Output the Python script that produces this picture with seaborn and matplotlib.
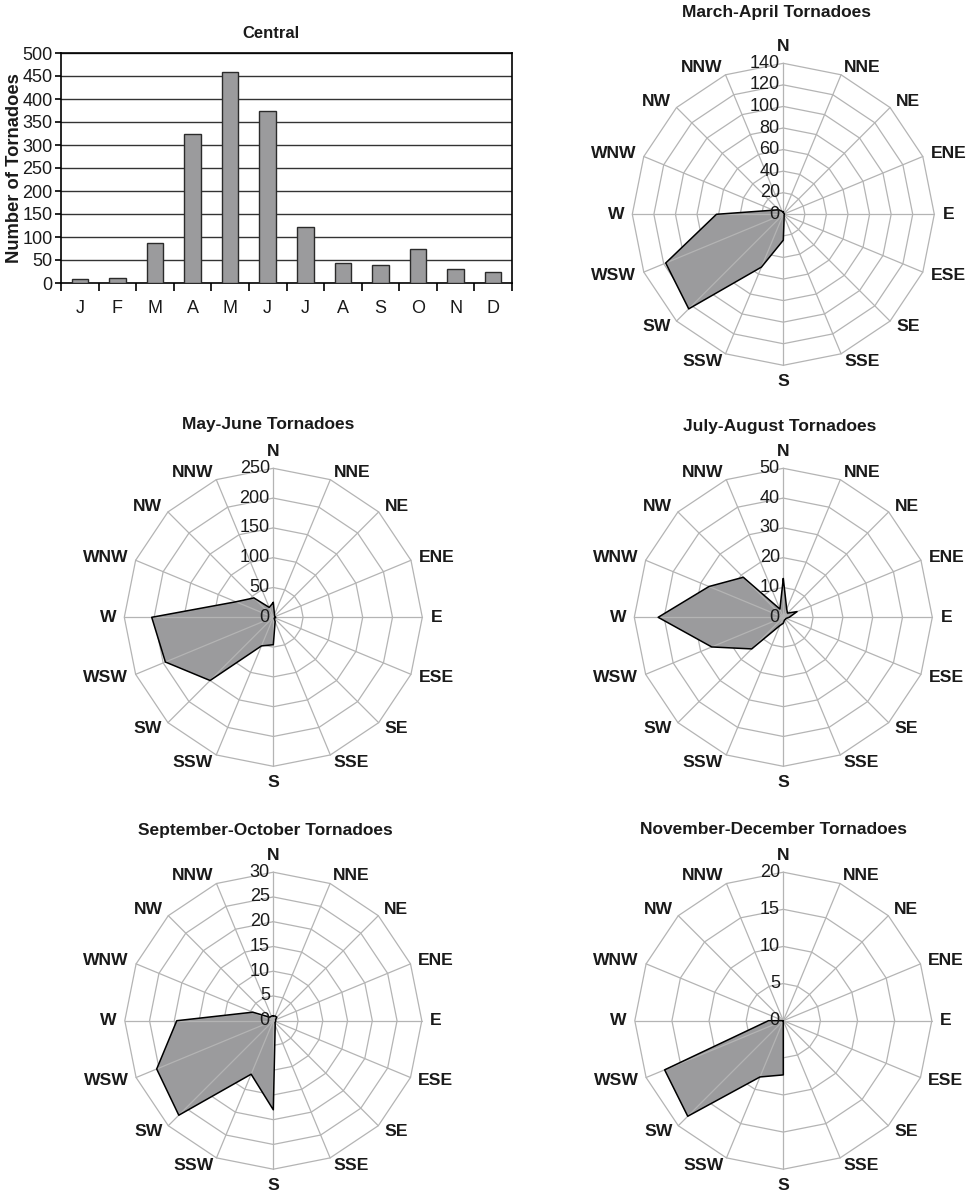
import numpy as np
import pandas as pd
import matplotlib
matplotlib.use("Agg")
import matplotlib.pyplot as plt
import matplotlib.transforms as mtransforms
import seaborn as sns

# ---------------- data ----------------
month_keys = ["Jan", "Feb", "Mar", "Apr", "May", "Jun", "Jul", "Aug", "Sep", "Oct", "Nov", "Dec"]
month_labels = ["J", "F", "M", "A", "M", "J", "J", "A", "S", "O", "N", "D"]
month_counts = [8, 11, 88, 325, 458, 373, 121, 44, 39, 75, 31, 23]
bar_yticks = [0, 50, 100, 150, 200, 250, 300, 350, 400, 450, 500]

directions = ["N", "NNE", "NE", "ENE", "E", "ESE", "SE", "SSE",
              "S", "SSW", "SW", "WSW", "W", "WNW", "NW", "NNW"]
mar_apr = [2, 1, 1, 1, 1, 1, 1, 2, 24, 53, 124, 118, 62, 10, 6, 3]
may_jun = [25, 5, 3, 3, 4, 3, 2, 8, 46, 52, 150, 196, 204, 68, 46, 18]
jul_aug = [13, 3, 2, 5, 2, 1, 1, 1, 2, 3, 15, 26, 42, 27, 19, 3]
sep_oct = [1, 1, 1, 0.5, 0.5, 0.5, 0.5, 1, 18, 11.7, 27, 25.5, 19.5, 4.5, 1, 1]
nov_dec = [0, 0, 0, 0, 0, 0, 0, 0, 7.3, 8.2, 18.2, 17.3, 2, 0, 0, 0]

titles = ["March-April Tornadoes", "May-June Tornadoes", "July-August Tornadoes",
          "September-October Tornadoes", "November-December Tornadoes"]
radial_max = [140, 250, 50, 30, 20]
radial_step = [20, 50, 10, 5, 5]

# ---------------- style ----------------
sns.set_theme(style="white")
plt.rcParams["font.family"] = ["Liberation Sans", "DejaVu Sans"]

W, H = 974, 1201
fig = plt.figure(figsize=(W / 100, H / 100), dpi=100)

FILL = "#9b9b9d"
GRID = "#b4b4b4"
TXT = "#1a1a1a"

# ---------------- bar chart ----------------
L, R_, T, B = 61, 512, 53, 283
axb = fig.add_axes([L / W, 1 - B / H, (R_ - L) / W, (B - T) / H])
df = pd.DataFrame({"month": month_keys, "count": month_counts})
sns.barplot(data=df, x="month", y="count", order=month_keys, color=FILL,
            saturation=1, edgecolor="#2b2b2b", linewidth=1.0, width=0.44, ax=axb, zorder=3)
axb.set_xlim(-0.5, 11.5)
axb.set_ylim(0, 500)
axb.set_yticks(bar_yticks)
axb.set_yticklabels([str(v) for v in bar_yticks], fontsize=13, color=TXT)
axb.set_xticks(range(12))
axb.set_xticklabels(month_labels, fontsize=13, color=TXT)
axb.set_xticks(np.arange(-0.5, 12, 1), minor=True)
axb.tick_params(axis="x", which="major", length=0, pad=12)
axb.tick_params(axis="x", which="minor", length=6, width=1.2, color="black", direction="out", bottom=True)
axb.tick_params(axis="y", which="major", length=4, width=1.2, color="black", direction="out", left=True, pad=2)
for y in bar_yticks[1:]:
    axb.axhline(y, color="#333333", lw=1.0, zorder=1)
for s in axb.spines.values():
    s.set_visible(True)
    s.set_color("black")
    s.set_linewidth(1.2)
axb.set_xlabel("")
axb.set_ylabel("Number of Tornadoes", fontsize=13.2, fontweight="bold", color=TXT)
axb.yaxis.set_label_coords(-0.084, 0.5)
fig.text(271 / W, 1 - 34 / H, "Central", ha="center", va="center",
         fontsize=12, fontweight="bold", color=TXT)

# ---------------- radar charts ----------------
theta = np.deg2rad(np.arange(16) * 22.5)
tc = np.append(theta, theta[0])


def radar(values, rmax, step, title, cx, cy, R, title_xy):
    ax = fig.add_axes([(cx - R) / W, 1 - (cy + R) / H, 2 * R / W, 2 * R / H], projection="polar")
    ax.set_theta_zero_location("N")
    ax.set_theta_direction(-1)
    ax.set_facecolor("none")
    ax.grid(False)
    ax.spines["polar"].set_visible(False)
    ax.set_xticks([])
    ax.set_yticks([])
    ax.set_ylim(0, rmax)
    vc = np.append(values, values[0])
    # rings (below fill)
    for lev in np.arange(step, rmax + step / 2, step):
        ax.plot(tc, [lev] * 17, color=GRID, lw=0.9, zorder=1, clip_on=False)
    ax.fill(tc, vc, color=FILL, zorder=2, lw=0)
    # spokes (above fill)
    for t in theta:
        ax.plot([t, t], [0, rmax], color=GRID, lw=0.9, zorder=3, clip_on=False)
    ax.plot(tc, vc, color="black", lw=1.1, zorder=4)
    # radial labels
    off = mtransforms.offset_copy(ax.transData, fig=fig, x=-2.5, y=0, units="points")
    for lev in np.arange(0, rmax + step / 2, step):
        ax.text(0, lev, f"{int(lev)}", transform=off, ha="right", va="center",
                fontsize=13, color=TXT, zorder=5)
    # direction labels
    for t, lab in zip(theta, directions):
        s = np.sin(t)
        if abs(s) < 1e-6:
            ax.text(t, rmax * 1.11, lab, ha="center", va="center", fontsize=12.6,
                    fontweight="bold", color=TXT)
        else:
            ha = "left" if s > 0 else "right"
            ax.text(t, rmax * 1.055, lab, ha=ha, va="center", fontsize=12.6,
                    fontweight="bold", color=TXT)
    fig.text(title_xy[0] / W, 1 - title_xy[1] / H, title, ha="center", va="center",
             fontsize=12.5, fontweight="bold", color=TXT)


series = [mar_apr, may_jun, jul_aug, sep_oct, nov_dec]
geom = [(783.3, 214.3, 151, (777, 13)),
        (273.3, 617.3, 149, (268, 425)),
        (783.3, 617.3, 149, (780, 427)),
        (273.3, 1020.7, 148.5, (265, 830)),
        (783.3, 1020.7, 148.5, (774, 829))]
for vals, rmax, step, title, (cx, cy, R, txy) in zip(series, radial_max, radial_step, titles, geom):
    radar(vals, rmax, step, title, cx, cy, R, txy)

fig.savefig("out.png", dpi=100, facecolor="white")
